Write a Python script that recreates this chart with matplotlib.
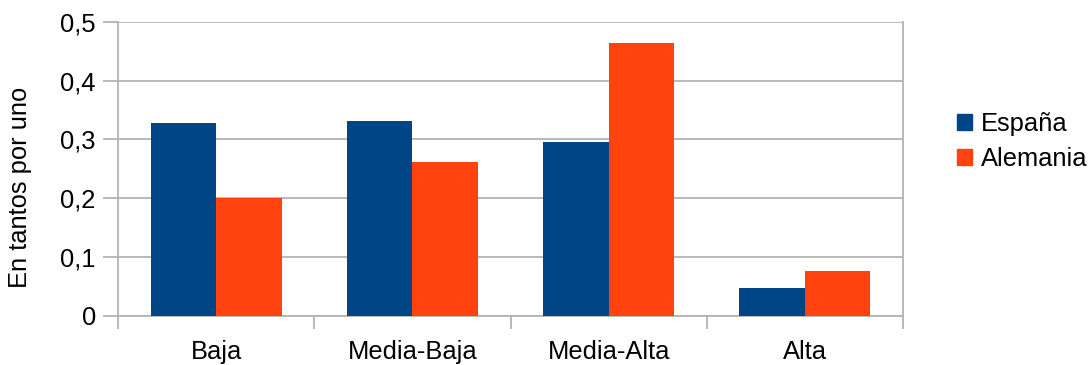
import matplotlib
matplotlib.use("Agg")
import matplotlib.pyplot as plt
import numpy as np
from matplotlib.patches import Patch

categories = ["Baja", "Media-Baja", "Media-Alta", "Alta"]
espana = [0.328, 0.332, 0.296, 0.047]
alemania = [0.200, 0.262, 0.465, 0.076]
series_names = ["España", "Alemania"]
yticks = [0, 0.1, 0.2, 0.3, 0.4, 0.5]
ytick_labels = ["0", "0,1", "0,2", "0,3", "0,4", "0,5"]

plt.rcParams['font.family'] = ['Liberation Sans', 'DejaVu Sans']
c_es = "#004586"
c_de = "#ff420e"
grid_c = "#b3b3b3"
fs = 18.4

fig = plt.figure(figsize=(10.9, 3.65), dpi=100)
ax = fig.add_axes([118/1090, 1-315.7/365, (903-118)/1090, (315.7-22)/365])

x = np.arange(len(categories))
w = 0.334
ax.bar(x - w/2, espana, w, color=c_es, zorder=3)
ax.bar(x + w/2, alemania, w, color=c_de, zorder=3)

ax.set_xlim(-0.5, len(categories) - 0.5)
ax.set_ylim(0, 0.5)
ax.set_yticks(yticks)
ax.set_yticklabels(ytick_labels, fontsize=fs)
ax.yaxis.grid(True, color=grid_c, linewidth=1.3, zorder=0)
ax.tick_params(axis='y', length=11, color=grid_c, width=1.3, pad=5)

ax.set_xticks(x)
ax.set_xticklabels(categories, fontsize=fs)
ax.set_xticks(np.arange(-0.5, len(categories)), minor=True)
ax.tick_params(axis='x', which='major', length=0, pad=17.5)
ax.tick_params(axis='x', which='minor', length=9, color=grid_c, width=1.3)

ax.spines['top'].set_visible(False)
for s in ['left', 'right', 'bottom']:
    ax.spines[s].set_color(grid_c)
    ax.spines[s].set_linewidth(1.3)

fig.text(20/1090, 1-187/365, "En tantos por uno", rotation=90, fontsize=fs,
         ha='center', va='center')

handles = [Patch(color=c_es), Patch(color=c_de)]
fig.legend(handles, series_names, loc='center left', bbox_to_anchor=(957/1090, 1-141.5/365),
           frameon=False, fontsize=fs, handlelength=0.58, handleheight=0.58,
           handletextpad=0.35, labelspacing=0.4, borderpad=0, borderaxespad=0)

fig.savefig("out.png", dpi=100)
